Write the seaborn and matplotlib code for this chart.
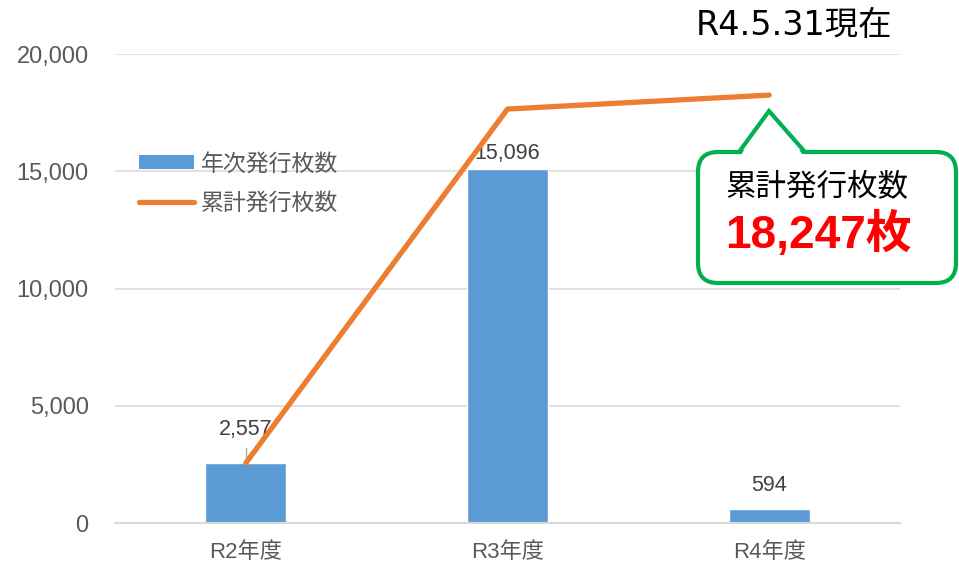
import numpy as np
import matplotlib.pyplot as plt
import seaborn as sns
from matplotlib.patches import FancyBboxPatch, Polygon, Patch
from matplotlib.lines import Line2D
from matplotlib.transforms import Affine2D
from matplotlib.ticker import FixedLocator, FuncFormatter

sns.set_style("white")
plt.rcParams['font.family'] = ['Liberation Sans', 'Noto Sans CJK JP', 'DejaVu Sans']

# data
years = ['R2年度', 'R3年度', 'R4年度']
annual = [2557, 15096, 594]
cumulative = [2557, 17653, 18247]
yticks = [0, 5000, 10000, 15000, 20000]

W, H = 959, 577
fig = plt.figure(figsize=(W / 100, H / 100), dpi=100)
ax = fig.add_axes([115 / W, 1 - 523 / H, 785 / W, 469 / H])

pos = np.arange(len(years))
sns.barplot(x=pos, y=annual, color='#5B9BD5', saturation=1, width=0.31,
            native_scale=True, ax=ax, zorder=2)
sns.lineplot(x=pos, y=cumulative, color='#ED7D31', lw=3.8, ax=ax,
             solid_capstyle='round', zorder=4)

ax.set_xlim(-0.5, 2.5)
ax.set_ylim(0, 20000)
ax.set_xlabel('')
ax.set_ylabel('')

# axes styling
ax.set_yticks(yticks)
ax.yaxis.set_major_formatter(FuncFormatter(lambda v, p: f'{int(v):,}'))
ax.tick_params(axis='y', length=0, pad=19, labelsize=17, labelcolor='#595959')
ax.set_xticks(pos)
ax.set_xticklabels(years)
ax.tick_params(axis='x', which='major', length=0, pad=14, labelsize=16,
               labelcolor='#595959')
ax.xaxis.set_minor_locator(FixedLocator([-0.5, 0.5, 1.5, 2.5]))
ax.tick_params(axis='x', which='minor', length=6, width=1.2, color='#D9D9D9',
               direction='out')
ax.yaxis.grid(True, color='#D9D9D9', lw=1.1, zorder=0)
ax.set_axisbelow(True)
for s in ['top', 'right', 'left']:
    ax.spines[s].set_visible(False)
ax.spines['bottom'].set_color('#D9D9D9')
ax.spines['bottom'].set_linewidth(1.5)

# data labels
offsets = [24, 11, 17]
for x, v, off in zip(pos, annual, offsets):
    ax.annotate(f'{v:,}', (x, v), xytext=(0, off), textcoords='offset points',
                ha='center', va='center', fontsize=15.5, color='#404040', zorder=3)
ax.plot([0, 0], [annual[0], annual[0] + 640], color='#A6A6A6', lw=1, zorder=3)

# legend
handles = [Patch(facecolor='#5B9BD5', edgecolor='none'),
           Line2D([], [], color='#ED7D31', lw=3.8, solid_capstyle='round')]
fig.legend(handles, ['年次発行枚数', '累計発行枚数'], loc='upper left',
           bbox_to_anchor=(128 / W, 1 - 141 / H), frameon=False, fontsize=16.5,
           labelcolor='#595959', handlelength=2.4, handleheight=0.55,
           handletextpad=0.3, labelspacing=0.72, borderpad=0)

# title
fig.text(892 / W, 1 - 26 / H, 'R4.5.31現在', ha='right', va='center',
         fontsize=24, color='#000000',
         family=['DejaVu Sans', 'Noto Sans CJK JP'])

# callout
pxT = Affine2D().scale(1 / W, 1 / H) + fig.transFigure
green = '#00B050'
box = FancyBboxPatch((698, H - 283), 258, 131,
                     boxstyle='round,pad=0,rounding_size=20',
                     facecolor='white', edgecolor=green, lw=3, transform=pxT,
                     zorder=10)
fig.add_artist(box)
tri = Polygon([(741, H - 155), (769, H - 111), (803, H - 155)], closed=True,
              facecolor='white', edgecolor='none', transform=pxT, zorder=11)
fig.add_artist(tri)
fig.add_artist(Line2D([739, 769, 805], [H - 152, H - 111, H - 152], color=green,
                      lw=3, transform=pxT, zorder=12, solid_joinstyle='miter'))
fig.text(817 / W, 1 - 187 / H, '累計発行枚数', ha='center', va='center',
         fontsize=22, color='black', zorder=13)
fig.text(818 / W, 1 - 235 / H, '18,247枚', ha='center', va='center',
         fontsize=33, fontweight='bold', color='#FF0000', zorder=13)

fig.savefig('out.png', dpi=100)
